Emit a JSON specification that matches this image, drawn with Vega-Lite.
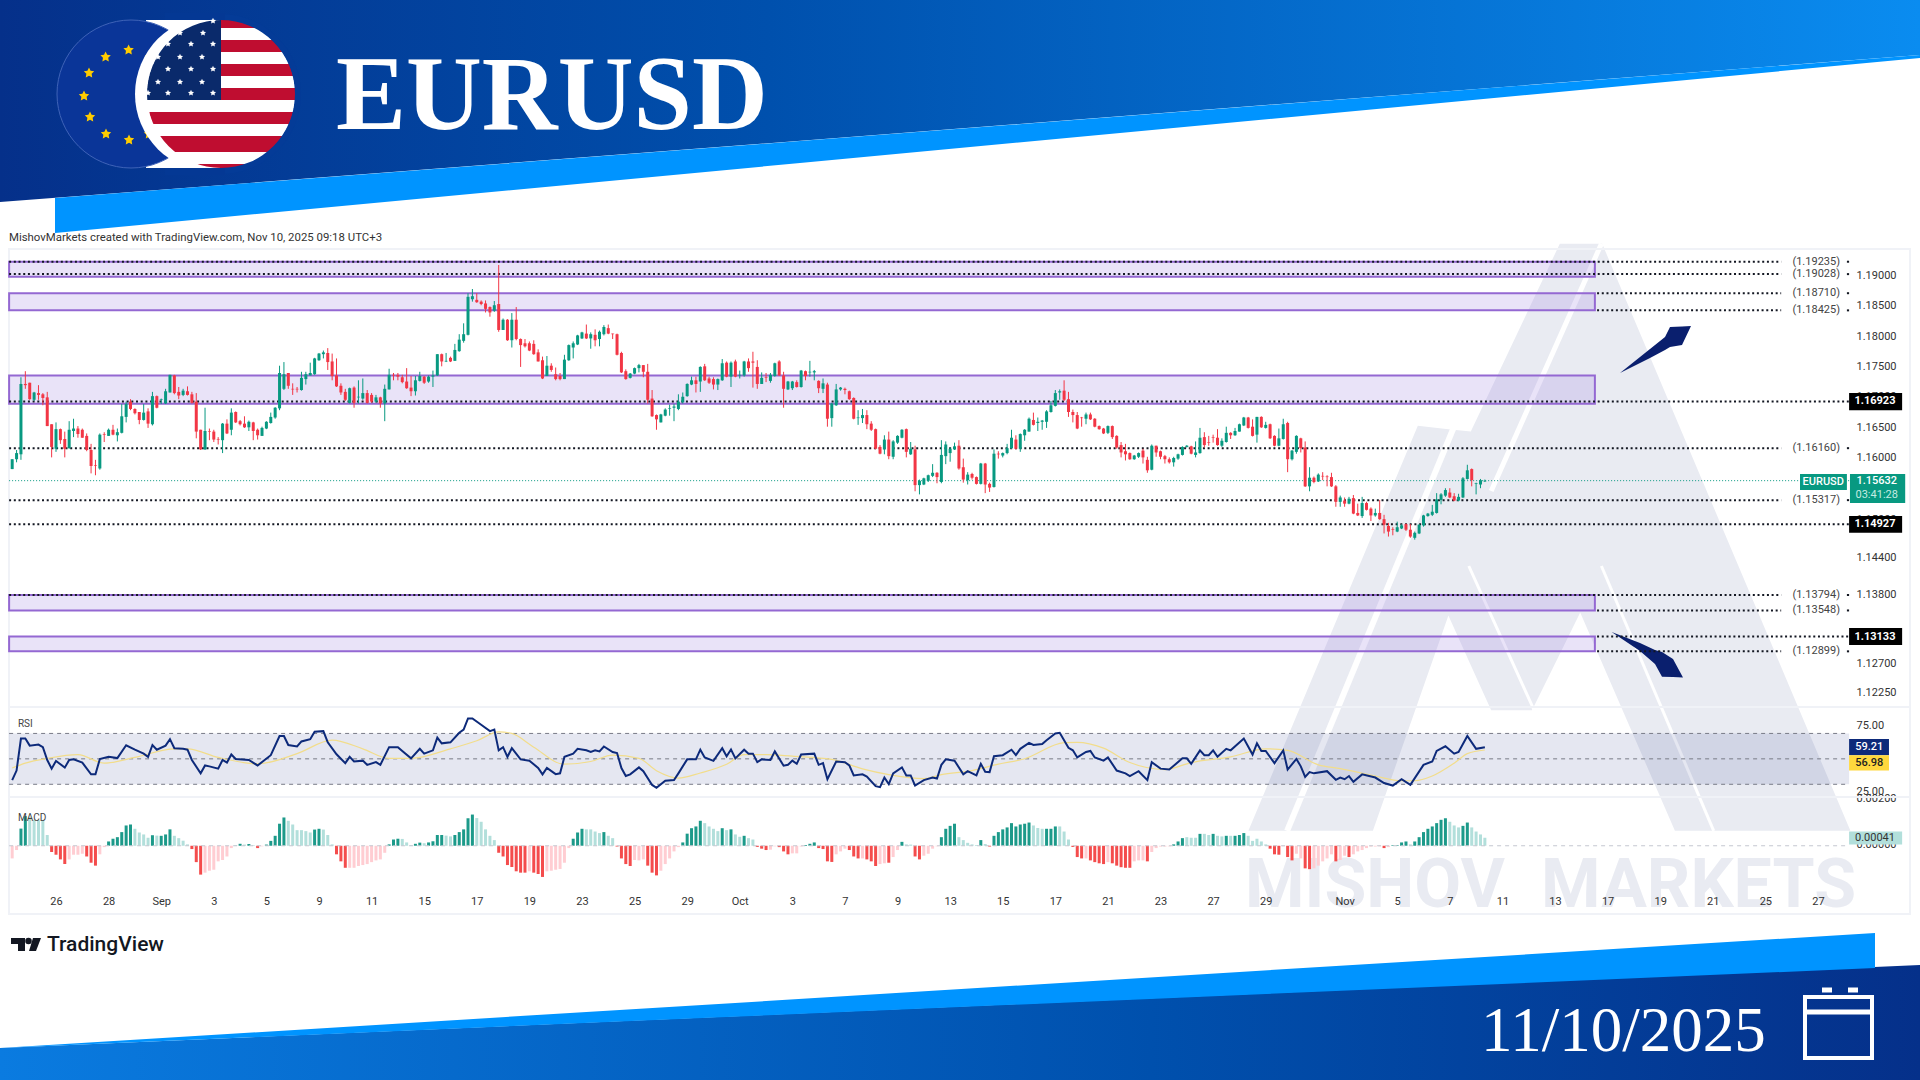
{"$schema":"https://vega.github.io/schema/vega-lite/v6.json","width":1920,"height":1080,"autosize":{"type":"none"},"padding":0,"background":"white","config":{"view":{"stroke":null},"font":"Roboto"},
"datasets":{
"candles":[{"i":0,"o":1.1582,"h":1.1598,"l":1.1582,"c":1.1598},{"i":1,"o":1.1598,"h":1.1613,"l":1.1593,"c":1.1608},{"i":2,"o":1.1606,"h":1.1732,"l":1.1597,"c":1.1721},{"i":3,"o":1.1721,"h":1.1742,"l":1.1713,"c":1.1719},{"i":4,"o":1.1723,"h":1.1723,"l":1.1695,"c":1.1696},{"i":5,"o":1.1695,"h":1.1708,"l":1.1693,"c":1.1707},{"i":6,"o":1.1706,"h":1.1719,"l":1.1695,"c":1.1703},{"i":7,"o":1.1704,"h":1.1706,"l":1.1686,"c":1.1698},{"i":8,"o":1.1699,"h":1.1708,"l":1.1652,"c":1.1652},{"i":9,"o":1.1655,"h":1.1655,"l":1.1601,"c":1.1618},{"i":10,"o":1.1615,"h":1.1658,"l":1.161,"c":1.1647},{"i":11,"o":1.1647,"h":1.1648,"l":1.1623,"c":1.1629},{"i":12,"o":1.1631,"h":1.1643,"l":1.1601,"c":1.1615},{"i":13,"o":1.1616,"h":1.166,"l":1.1615,"c":1.1646},{"i":14,"o":1.1644,"h":1.1664,"l":1.1634,"c":1.1648},{"i":15,"o":1.1648,"h":1.1652,"l":1.1633,"c":1.1639},{"i":16,"o":1.1646,"h":1.1648,"l":1.1633,"c":1.1633},{"i":17,"o":1.1636,"h":1.164,"l":1.1611,"c":1.1613},{"i":18,"o":1.1613,"h":1.1623,"l":1.1575,"c":1.1587},{"i":19,"o":1.1588,"h":1.1597,"l":1.1572,"c":1.1587},{"i":20,"o":1.1583,"h":1.164,"l":1.1581,"c":1.1638},{"i":21,"o":1.1639,"h":1.1642,"l":1.1626,"c":1.1638},{"i":22,"o":1.1636,"h":1.1648,"l":1.1636,"c":1.1646},{"i":23,"o":1.1646,"h":1.1654,"l":1.1637,"c":1.1638},{"i":24,"o":1.1637,"h":1.1648,"l":1.1627,"c":1.1642},{"i":25,"o":1.1641,"h":1.1688,"l":1.164,"c":1.1668},{"i":26,"o":1.1667,"h":1.1692,"l":1.1658,"c":1.1688},{"i":27,"o":1.1692,"h":1.1696,"l":1.1678,"c":1.168},{"i":28,"o":1.168,"h":1.1681,"l":1.1671,"c":1.1673},{"i":29,"o":1.1675,"h":1.1675,"l":1.1655,"c":1.1662},{"i":30,"o":1.1662,"h":1.1688,"l":1.1661,"c":1.1674},{"i":31,"o":1.1676,"h":1.1681,"l":1.1649,"c":1.1656},{"i":32,"o":1.1655,"h":1.1708,"l":1.1653,"c":1.1701},{"i":33,"o":1.1701,"h":1.1702,"l":1.1681,"c":1.1682},{"i":34,"o":1.1695,"h":1.1697,"l":1.1688,"c":1.1696},{"i":35,"o":1.1689,"h":1.1713,"l":1.1688,"c":1.1709},{"i":36,"o":1.1707,"h":1.1736,"l":1.1707,"c":1.1736},{"i":37,"o":1.1735,"h":1.1736,"l":1.1704,"c":1.1706},{"i":38,"o":1.1708,"h":1.1716,"l":1.1696,"c":1.1702},{"i":39,"o":1.1703,"h":1.1713,"l":1.1701,"c":1.171},{"i":40,"o":1.1709,"h":1.1717,"l":1.1702,"c":1.1703},{"i":41,"o":1.1704,"h":1.1708,"l":1.1689,"c":1.169},{"i":42,"o":1.1692,"h":1.1706,"l":1.1632,"c":1.1643},{"i":43,"o":1.1646,"h":1.1646,"l":1.1613,"c":1.1614},{"i":44,"o":1.1614,"h":1.1682,"l":1.1613,"c":1.1644},{"i":45,"o":1.1644,"h":1.1648,"l":1.1629,"c":1.1643},{"i":46,"o":1.1643,"h":1.1646,"l":1.1626,"c":1.163},{"i":47,"o":1.1631,"h":1.1634,"l":1.1622,"c":1.163},{"i":48,"o":1.1629,"h":1.1657,"l":1.1608,"c":1.1656},{"i":49,"o":1.1656,"h":1.1663,"l":1.1639,"c":1.164},{"i":50,"o":1.1646,"h":1.1681,"l":1.1637,"c":1.1674},{"i":51,"o":1.1675,"h":1.1676,"l":1.1657,"c":1.1658},{"i":52,"o":1.166,"h":1.1662,"l":1.1653,"c":1.1655},{"i":53,"o":1.1656,"h":1.1668,"l":1.1649,"c":1.165},{"i":54,"o":1.165,"h":1.1661,"l":1.1644,"c":1.1659},{"i":55,"o":1.1658,"h":1.1659,"l":1.1629,"c":1.1644},{"i":56,"o":1.1646,"h":1.1648,"l":1.163,"c":1.1637},{"i":57,"o":1.1636,"h":1.1651,"l":1.1636,"c":1.1649},{"i":58,"o":1.1648,"h":1.166,"l":1.1647,"c":1.1659},{"i":59,"o":1.1657,"h":1.1674,"l":1.1656,"c":1.1667},{"i":60,"o":1.1666,"h":1.1683,"l":1.1664,"c":1.1682},{"i":61,"o":1.1681,"h":1.1751,"l":1.1678,"c":1.1739},{"i":62,"o":1.1713,"h":1.1757,"l":1.1711,"c":1.1737},{"i":63,"o":1.1739,"h":1.1739,"l":1.1713,"c":1.1718},{"i":64,"o":1.1713,"h":1.1722,"l":1.1703,"c":1.1712},{"i":65,"o":1.1713,"h":1.1716,"l":1.1707,"c":1.1712},{"i":66,"o":1.1711,"h":1.1741,"l":1.171,"c":1.1731},{"i":67,"o":1.1729,"h":1.1741,"l":1.172,"c":1.1737},{"i":68,"o":1.1735,"h":1.1756,"l":1.1735,"c":1.1739},{"i":69,"o":1.1737,"h":1.1764,"l":1.1736,"c":1.1763},{"i":70,"o":1.176,"h":1.1772,"l":1.1759,"c":1.1771},{"i":71,"o":1.177,"h":1.1776,"l":1.1763,"c":1.1773},{"i":72,"o":1.1772,"h":1.178,"l":1.1744,"c":1.1757},{"i":73,"o":1.1758,"h":1.1771,"l":1.1727,"c":1.1734},{"i":74,"o":1.1735,"h":1.1763,"l":1.1716,"c":1.1717},{"i":75,"o":1.1718,"h":1.1722,"l":1.1703,"c":1.1707},{"i":76,"o":1.1708,"h":1.1713,"l":1.1693,"c":1.1695},{"i":77,"o":1.169,"h":1.1715,"l":1.1689,"c":1.1714},{"i":78,"o":1.1715,"h":1.1717,"l":1.1682,"c":1.169},{"i":79,"o":1.1699,"h":1.1727,"l":1.1689,"c":1.17},{"i":80,"o":1.1697,"h":1.173,"l":1.1695,"c":1.1706},{"i":81,"o":1.1706,"h":1.1711,"l":1.1689,"c":1.169},{"i":82,"o":1.1703,"h":1.1706,"l":1.169,"c":1.1692},{"i":83,"o":1.1692,"h":1.1703,"l":1.169,"c":1.1699},{"i":84,"o":1.1699,"h":1.17,"l":1.1682,"c":1.1689},{"i":85,"o":1.1689,"h":1.172,"l":1.166,"c":1.1713},{"i":86,"o":1.1712,"h":1.1746,"l":1.1712,"c":1.1736},{"i":87,"o":1.1736,"h":1.1739,"l":1.1727,"c":1.1735},{"i":88,"o":1.1736,"h":1.1739,"l":1.1727,"c":1.1733},{"i":89,"o":1.1732,"h":1.1736,"l":1.1722,"c":1.1724},{"i":90,"o":1.1725,"h":1.1747,"l":1.1713,"c":1.1714},{"i":91,"o":1.1715,"h":1.1734,"l":1.1701,"c":1.1709},{"i":92,"o":1.1709,"h":1.1734,"l":1.1702,"c":1.1727},{"i":93,"o":1.1726,"h":1.1741,"l":1.1725,"c":1.1734},{"i":94,"o":1.1733,"h":1.1734,"l":1.1721,"c":1.1723},{"i":95,"o":1.1725,"h":1.1735,"l":1.1723,"c":1.1733},{"i":96,"o":1.1733,"h":1.1743,"l":1.1716,"c":1.1735},{"i":97,"o":1.1735,"h":1.177,"l":1.1734,"c":1.177},{"i":98,"o":1.177,"h":1.1771,"l":1.175,"c":1.1758},{"i":99,"o":1.1758,"h":1.1772,"l":1.1757,"c":1.1759},{"i":100,"o":1.1764,"h":1.1766,"l":1.1757,"c":1.1758},{"i":101,"o":1.1759,"h":1.1787,"l":1.1759,"c":1.1777},{"i":102,"o":1.1775,"h":1.1803,"l":1.1774,"c":1.1794},{"i":103,"o":1.1792,"h":1.1821,"l":1.1789,"c":1.1803},{"i":104,"o":1.1802,"h":1.1871,"l":1.1801,"c":1.1865},{"i":105,"o":1.1861,"h":1.1878,"l":1.1857,"c":1.1866},{"i":106,"o":1.186,"h":1.1871,"l":1.1855,"c":1.1856},{"i":107,"o":1.1857,"h":1.1859,"l":1.1851,"c":1.1853},{"i":108,"o":1.1854,"h":1.1859,"l":1.1839,"c":1.1845},{"i":109,"o":1.1848,"h":1.1849,"l":1.1832,"c":1.1839},{"i":110,"o":1.1842,"h":1.1858,"l":1.184,"c":1.1851},{"i":111,"o":1.1853,"h":1.1918,"l":1.1807,"c":1.181},{"i":112,"o":1.181,"h":1.1829,"l":1.181,"c":1.1827},{"i":113,"o":1.1827,"h":1.1828,"l":1.1792,"c":1.1793},{"i":114,"o":1.1793,"h":1.1838,"l":1.1781,"c":1.1827},{"i":115,"o":1.1827,"h":1.1848,"l":1.1793,"c":1.1795},{"i":116,"o":1.1795,"h":1.1796,"l":1.1749,"c":1.1785},{"i":117,"o":1.1788,"h":1.1795,"l":1.1781,"c":1.1783},{"i":118,"o":1.1788,"h":1.1791,"l":1.1775,"c":1.1776},{"i":119,"o":1.1787,"h":1.1793,"l":1.1769,"c":1.177},{"i":120,"o":1.1773,"h":1.1778,"l":1.1758,"c":1.1758},{"i":121,"o":1.176,"h":1.1766,"l":1.1729,"c":1.173},{"i":122,"o":1.1734,"h":1.1767,"l":1.1734,"c":1.1751},{"i":123,"o":1.1751,"h":1.1755,"l":1.1741,"c":1.1744},{"i":124,"o":1.1737,"h":1.1748,"l":1.1727,"c":1.1729},{"i":125,"o":1.1734,"h":1.1739,"l":1.1727,"c":1.1729},{"i":126,"o":1.1729,"h":1.1769,"l":1.1729,"c":1.1761},{"i":127,"o":1.176,"h":1.1786,"l":1.1759,"c":1.1785},{"i":128,"o":1.1781,"h":1.1791,"l":1.1763,"c":1.1788},{"i":129,"o":1.1786,"h":1.1802,"l":1.1785,"c":1.1801},{"i":130,"o":1.1796,"h":1.1807,"l":1.1795,"c":1.1806},{"i":131,"o":1.1804,"h":1.1819,"l":1.1795,"c":1.1796},{"i":132,"o":1.1796,"h":1.1806,"l":1.1779,"c":1.1803},{"i":133,"o":1.1802,"h":1.1811,"l":1.1783,"c":1.1793},{"i":134,"o":1.1795,"h":1.1809,"l":1.1783,"c":1.1807},{"i":135,"o":1.1803,"h":1.1818,"l":1.1801,"c":1.1815},{"i":136,"o":1.1813,"h":1.1819,"l":1.1803,"c":1.1804},{"i":137,"o":1.1804,"h":1.1804,"l":1.1795,"c":1.1803},{"i":138,"o":1.1803,"h":1.1804,"l":1.1768,"c":1.1769},{"i":139,"o":1.1772,"h":1.1774,"l":1.1739,"c":1.174},{"i":140,"o":1.1742,"h":1.1745,"l":1.1728,"c":1.1729},{"i":141,"o":1.1731,"h":1.1739,"l":1.173,"c":1.1738},{"i":142,"o":1.1738,"h":1.1748,"l":1.1737,"c":1.1747},{"i":143,"o":1.1747,"h":1.1754,"l":1.174,"c":1.1752},{"i":144,"o":1.1752,"h":1.1752,"l":1.1732,"c":1.1741},{"i":145,"o":1.1741,"h":1.1754,"l":1.1689,"c":1.1695},{"i":146,"o":1.1697,"h":1.1711,"l":1.1667,"c":1.1668},{"i":147,"o":1.167,"h":1.1671,"l":1.1646,"c":1.1663},{"i":148,"o":1.1658,"h":1.1672,"l":1.1658,"c":1.1671},{"i":149,"o":1.1669,"h":1.1681,"l":1.1668,"c":1.1679},{"i":150,"o":1.168,"h":1.1687,"l":1.1669,"c":1.1681},{"i":151,"o":1.1682,"h":1.1688,"l":1.166,"c":1.1684},{"i":152,"o":1.168,"h":1.1704,"l":1.1678,"c":1.1692},{"i":153,"o":1.1691,"h":1.1707,"l":1.1689,"c":1.17},{"i":154,"o":1.1701,"h":1.1722,"l":1.17,"c":1.1721},{"i":155,"o":1.172,"h":1.1733,"l":1.1719,"c":1.1727},{"i":156,"o":1.1727,"h":1.1733,"l":1.1707,"c":1.1721},{"i":157,"o":1.1725,"h":1.175,"l":1.1708,"c":1.1749},{"i":158,"o":1.175,"h":1.1754,"l":1.1726,"c":1.1727},{"i":159,"o":1.173,"h":1.1733,"l":1.1721,"c":1.1723},{"i":160,"o":1.1729,"h":1.1732,"l":1.1712,"c":1.172},{"i":161,"o":1.172,"h":1.173,"l":1.1711,"c":1.1729},{"i":162,"o":1.1727,"h":1.1762,"l":1.1726,"c":1.1755},{"i":163,"o":1.1756,"h":1.1758,"l":1.1732,"c":1.1733},{"i":164,"o":1.1733,"h":1.1758,"l":1.1716,"c":1.1756},{"i":165,"o":1.1758,"h":1.1761,"l":1.1732,"c":1.1733},{"i":166,"o":1.1735,"h":1.1743,"l":1.173,"c":1.1736},{"i":167,"o":1.1735,"h":1.1759,"l":1.1733,"c":1.1758},{"i":168,"o":1.1758,"h":1.1763,"l":1.1741,"c":1.1747},{"i":169,"o":1.1758,"h":1.1774,"l":1.1715,"c":1.1756},{"i":170,"o":1.1749,"h":1.176,"l":1.1713,"c":1.1721},{"i":171,"o":1.1721,"h":1.174,"l":1.1721,"c":1.1731},{"i":172,"o":1.1732,"h":1.1739,"l":1.1724,"c":1.1731},{"i":173,"o":1.1726,"h":1.1739,"l":1.1723,"c":1.1736},{"i":174,"o":1.1734,"h":1.1756,"l":1.1733,"c":1.1755},{"i":175,"o":1.1758,"h":1.176,"l":1.1734,"c":1.1735},{"i":176,"o":1.1735,"h":1.1741,"l":1.1682,"c":1.1713},{"i":177,"o":1.1712,"h":1.1726,"l":1.1711,"c":1.1725},{"i":178,"o":1.1714,"h":1.1726,"l":1.1711,"c":1.1725},{"i":179,"o":1.1724,"h":1.1727,"l":1.1715,"c":1.1716},{"i":180,"o":1.1716,"h":1.1744,"l":1.1715,"c":1.1743},{"i":181,"o":1.1742,"h":1.1743,"l":1.1727,"c":1.1734},{"i":182,"o":1.174,"h":1.1759,"l":1.1733,"c":1.1741},{"i":183,"o":1.174,"h":1.1744,"l":1.1727,"c":1.1742},{"i":184,"o":1.1726,"h":1.1727,"l":1.1706,"c":1.1714},{"i":185,"o":1.1713,"h":1.173,"l":1.1706,"c":1.1722},{"i":186,"o":1.172,"h":1.1723,"l":1.1651,"c":1.1664},{"i":187,"o":1.1665,"h":1.169,"l":1.1651,"c":1.1689},{"i":188,"o":1.1686,"h":1.1721,"l":1.1685,"c":1.1712},{"i":189,"o":1.1712,"h":1.1716,"l":1.171,"c":1.1715},{"i":190,"o":1.1713,"h":1.1715,"l":1.1704,"c":1.1711},{"i":191,"o":1.1709,"h":1.171,"l":1.1695,"c":1.1696},{"i":192,"o":1.1698,"h":1.1699,"l":1.1663,"c":1.1664},{"i":193,"o":1.1665,"h":1.1678,"l":1.1654,"c":1.1666},{"i":194,"o":1.1665,"h":1.168,"l":1.1657,"c":1.167},{"i":195,"o":1.167,"h":1.1678,"l":1.1647,"c":1.1655},{"i":196,"o":1.1656,"h":1.166,"l":1.1644,"c":1.1646},{"i":197,"o":1.1647,"h":1.1648,"l":1.1614,"c":1.1615},{"i":198,"o":1.1618,"h":1.1621,"l":1.1606,"c":1.1607},{"i":199,"o":1.1614,"h":1.1637,"l":1.1606,"c":1.163},{"i":200,"o":1.163,"h":1.1643,"l":1.1598,"c":1.1603},{"i":201,"o":1.1602,"h":1.1629,"l":1.1598,"c":1.1627},{"i":202,"o":1.1625,"h":1.1637,"l":1.1623,"c":1.1636},{"i":203,"o":1.1633,"h":1.1647,"l":1.1632,"c":1.1646},{"i":204,"o":1.1647,"h":1.1648,"l":1.1601,"c":1.161},{"i":205,"o":1.1606,"h":1.1626,"l":1.1605,"c":1.1615},{"i":206,"o":1.1614,"h":1.162,"l":1.1546,"c":1.1556},{"i":207,"o":1.1556,"h":1.1565,"l":1.1541,"c":1.1563},{"i":208,"o":1.1557,"h":1.1568,"l":1.1556,"c":1.1567},{"i":209,"o":1.1563,"h":1.1573,"l":1.1561,"c":1.1572},{"i":210,"o":1.1571,"h":1.159,"l":1.1569,"c":1.1576},{"i":211,"o":1.1576,"h":1.1577,"l":1.1559,"c":1.1569},{"i":212,"o":1.1561,"h":1.1629,"l":1.1559,"c":1.1605},{"i":213,"o":1.1603,"h":1.1627,"l":1.159,"c":1.1622},{"i":214,"o":1.1608,"h":1.1617,"l":1.1594,"c":1.1615},{"i":215,"o":1.1614,"h":1.1625,"l":1.1613,"c":1.1619},{"i":216,"o":1.162,"h":1.1629,"l":1.1581,"c":1.1583},{"i":217,"o":1.1585,"h":1.1599,"l":1.156,"c":1.1565},{"i":218,"o":1.1564,"h":1.1577,"l":1.1557,"c":1.1573},{"i":219,"o":1.1574,"h":1.1576,"l":1.1565,"c":1.1568},{"i":220,"o":1.1569,"h":1.157,"l":1.1557,"c":1.1558},{"i":221,"o":1.1558,"h":1.1592,"l":1.1557,"c":1.1591},{"i":222,"o":1.1591,"h":1.1592,"l":1.1543,"c":1.1557},{"i":223,"o":1.1558,"h":1.156,"l":1.1545,"c":1.1552},{"i":224,"o":1.1553,"h":1.1614,"l":1.1552,"c":1.1607},{"i":225,"o":1.1607,"h":1.1611,"l":1.1599,"c":1.1606},{"i":226,"o":1.1604,"h":1.1609,"l":1.1601,"c":1.1608},{"i":227,"o":1.1608,"h":1.1623,"l":1.1606,"c":1.1616},{"i":228,"o":1.1616,"h":1.1646,"l":1.1615,"c":1.1633},{"i":229,"o":1.163,"h":1.1637,"l":1.1614,"c":1.1615},{"i":230,"o":1.1615,"h":1.164,"l":1.161,"c":1.1639},{"i":231,"o":1.1637,"h":1.1647,"l":1.1628,"c":1.1646},{"i":232,"o":1.1643,"h":1.1666,"l":1.1643,"c":1.1664},{"i":233,"o":1.1662,"h":1.1674,"l":1.1653,"c":1.1654},{"i":234,"o":1.1657,"h":1.1666,"l":1.1644,"c":1.1659},{"i":235,"o":1.1659,"h":1.1662,"l":1.1646,"c":1.1661},{"i":236,"o":1.1659,"h":1.1678,"l":1.1649,"c":1.1676},{"i":237,"o":1.1675,"h":1.1693,"l":1.1674,"c":1.1686},{"i":238,"o":1.1685,"h":1.1711,"l":1.1684,"c":1.1706},{"i":239,"o":1.1707,"h":1.1712,"l":1.1695,"c":1.1709},{"i":240,"o":1.171,"h":1.1727,"l":1.1693,"c":1.1695},{"i":241,"o":1.1696,"h":1.1708,"l":1.1667,"c":1.1675},{"i":242,"o":1.1675,"h":1.1679,"l":1.1658,"c":1.167},{"i":243,"o":1.167,"h":1.1675,"l":1.1647,"c":1.1648},{"i":244,"o":1.1666,"h":1.1667,"l":1.1651,"c":1.1665},{"i":245,"o":1.1664,"h":1.1674,"l":1.1655,"c":1.1671},{"i":246,"o":1.1671,"h":1.1674,"l":1.1662,"c":1.1663},{"i":247,"o":1.1664,"h":1.1665,"l":1.165,"c":1.1651},{"i":248,"o":1.1652,"h":1.1653,"l":1.1646,"c":1.1647},{"i":249,"o":1.1648,"h":1.1649,"l":1.1639,"c":1.164},{"i":250,"o":1.1641,"h":1.1653,"l":1.1639,"c":1.1652},{"i":251,"o":1.1652,"h":1.1653,"l":1.1631,"c":1.1634},{"i":252,"o":1.1636,"h":1.1637,"l":1.1615,"c":1.1617},{"i":253,"o":1.1621,"h":1.1626,"l":1.1601,"c":1.1609},{"i":254,"o":1.1611,"h":1.1623,"l":1.1596,"c":1.1606},{"i":255,"o":1.1608,"h":1.1609,"l":1.1597,"c":1.1598},{"i":256,"o":1.1598,"h":1.1605,"l":1.1597,"c":1.1604},{"i":257,"o":1.1602,"h":1.1609,"l":1.16,"c":1.1608},{"i":258,"o":1.1612,"h":1.1615,"l":1.1591,"c":1.1601},{"i":259,"o":1.1597,"h":1.1602,"l":1.1576,"c":1.158},{"i":260,"o":1.1581,"h":1.1622,"l":1.158,"c":1.162},{"i":261,"o":1.162,"h":1.162,"l":1.1602,"c":1.1609},{"i":262,"o":1.1611,"h":1.1612,"l":1.1598,"c":1.1602},{"i":263,"o":1.1603,"h":1.1605,"l":1.1591,"c":1.1598},{"i":264,"o":1.1598,"h":1.1601,"l":1.1591,"c":1.1593},{"i":265,"o":1.1593,"h":1.1602,"l":1.1586,"c":1.16},{"i":266,"o":1.1599,"h":1.1607,"l":1.1597,"c":1.1606},{"i":267,"o":1.1605,"h":1.1619,"l":1.1604,"c":1.1618},{"i":268,"o":1.1618,"h":1.1621,"l":1.1617,"c":1.162},{"i":269,"o":1.1619,"h":1.162,"l":1.1606,"c":1.1607},{"i":270,"o":1.1605,"h":1.1627,"l":1.1601,"c":1.1609},{"i":271,"o":1.1608,"h":1.1649,"l":1.1607,"c":1.1633},{"i":272,"o":1.1634,"h":1.1642,"l":1.1617,"c":1.1621},{"i":273,"o":1.1626,"h":1.1636,"l":1.162,"c":1.1625},{"i":274,"o":1.1634,"h":1.1638,"l":1.1625,"c":1.1633},{"i":275,"o":1.1633,"h":1.1647,"l":1.162,"c":1.1621},{"i":276,"o":1.162,"h":1.1632,"l":1.1618,"c":1.1628},{"i":277,"o":1.1626,"h":1.1651,"l":1.1625,"c":1.1641},{"i":278,"o":1.1641,"h":1.1642,"l":1.1631,"c":1.1637},{"i":279,"o":1.1637,"h":1.1649,"l":1.1636,"c":1.1644},{"i":280,"o":1.1643,"h":1.1656,"l":1.1643,"c":1.1655},{"i":281,"o":1.1653,"h":1.1667,"l":1.1652,"c":1.1666},{"i":282,"o":1.1666,"h":1.1667,"l":1.1648,"c":1.1649},{"i":283,"o":1.1651,"h":1.1663,"l":1.1635,"c":1.1636},{"i":284,"o":1.1638,"h":1.1667,"l":1.1625,"c":1.1667},{"i":285,"o":1.1667,"h":1.1668,"l":1.1649,"c":1.165},{"i":286,"o":1.1649,"h":1.1659,"l":1.1648,"c":1.1654},{"i":287,"o":1.1655,"h":1.1656,"l":1.1631,"c":1.1632},{"i":288,"o":1.1636,"h":1.1637,"l":1.1619,"c":1.162},{"i":289,"o":1.162,"h":1.1648,"l":1.1619,"c":1.1632},{"i":290,"o":1.1631,"h":1.1664,"l":1.163,"c":1.1655},{"i":291,"o":1.1657,"h":1.1659,"l":1.1577,"c":1.1598},{"i":292,"o":1.1598,"h":1.1613,"l":1.1596,"c":1.1612},{"i":293,"o":1.161,"h":1.1637,"l":1.1607,"c":1.1636},{"i":294,"o":1.1632,"h":1.1633,"l":1.1609,"c":1.1616},{"i":295,"o":1.1617,"h":1.1627,"l":1.1553,"c":1.1554},{"i":296,"o":1.1554,"h":1.1585,"l":1.1546,"c":1.1568},{"i":297,"o":1.1568,"h":1.157,"l":1.1559,"c":1.1561},{"i":298,"o":1.1562,"h":1.1575,"l":1.1561,"c":1.1573},{"i":299,"o":1.1571,"h":1.1577,"l":1.1564,"c":1.157},{"i":300,"o":1.157,"h":1.1572,"l":1.1554,"c":1.1569},{"i":301,"o":1.1569,"h":1.1576,"l":1.1553,"c":1.1554},{"i":302,"o":1.1554,"h":1.1556,"l":1.1521,"c":1.1529},{"i":303,"o":1.1529,"h":1.1539,"l":1.1521,"c":1.1536},{"i":304,"o":1.1531,"h":1.1536,"l":1.1521,"c":1.1526},{"i":305,"o":1.1526,"h":1.1537,"l":1.1525,"c":1.1534},{"i":306,"o":1.1535,"h":1.154,"l":1.1509,"c":1.151},{"i":307,"o":1.1511,"h":1.1526,"l":1.1506,"c":1.1507},{"i":308,"o":1.1506,"h":1.1537,"l":1.1503,"c":1.1527},{"i":309,"o":1.1527,"h":1.1529,"l":1.1515,"c":1.1516},{"i":310,"o":1.1518,"h":1.152,"l":1.1498,"c":1.1507},{"i":311,"o":1.1507,"h":1.1518,"l":1.1505,"c":1.1511},{"i":312,"o":1.1511,"h":1.1532,"l":1.15,"c":1.1501},{"i":313,"o":1.1501,"h":1.1508,"l":1.1478,"c":1.1492},{"i":314,"o":1.149,"h":1.1495,"l":1.1473,"c":1.1481},{"i":315,"o":1.1485,"h":1.1488,"l":1.1475,"c":1.1484},{"i":316,"o":1.1481,"h":1.1497,"l":1.148,"c":1.1488},{"i":317,"o":1.1486,"h":1.1493,"l":1.1485,"c":1.1491},{"i":318,"o":1.1493,"h":1.1494,"l":1.1482,"c":1.1484},{"i":319,"o":1.1484,"h":1.1493,"l":1.1471,"c":1.1473},{"i":320,"o":1.1471,"h":1.1481,"l":1.1468,"c":1.1479},{"i":321,"o":1.1478,"h":1.1493,"l":1.1477,"c":1.1492},{"i":322,"o":1.1491,"h":1.1508,"l":1.1489,"c":1.1507},{"i":323,"o":1.1506,"h":1.1511,"l":1.1505,"c":1.151},{"i":324,"o":1.1508,"h":1.1524,"l":1.1506,"c":1.1513},{"i":325,"o":1.1511,"h":1.1543,"l":1.151,"c":1.1533},{"i":326,"o":1.1532,"h":1.1543,"l":1.1525,"c":1.1541},{"i":327,"o":1.1539,"h":1.1551,"l":1.1537,"c":1.1548},{"i":328,"o":1.1544,"h":1.1551,"l":1.1535,"c":1.1536},{"i":329,"o":1.1538,"h":1.1543,"l":1.153,"c":1.1531},{"i":330,"o":1.1531,"h":1.1542,"l":1.153,"c":1.1537},{"i":331,"o":1.1536,"h":1.1569,"l":1.1535,"c":1.1567},{"i":332,"o":1.1566,"h":1.1589,"l":1.1565,"c":1.158},{"i":333,"o":1.1582,"h":1.1583,"l":1.1554,"c":1.1564},{"i":334,"o":1.1558,"h":1.156,"l":1.1541,"c":1.1559},{"i":335,"o":1.1557,"h":1.1566,"l":1.1551,"c":1.1564},{"i":336,"o":1.1562,"h":1.1565,"l":1.1561,"c":1.1563}],
"rsi":[{"i":0,"v":33.3},{"i":1,"v":40.8},{"i":2,"v":66},{"i":3,"v":66},{"i":4,"v":60.4},{"i":6,"v":61.2},{"i":7,"v":59.2},{"i":8,"v":49.1},{"i":9,"v":42.3},{"i":10,"v":48.4},{"i":12,"v":43.1},{"i":13,"v":49.1},{"i":14,"v":49.6},{"i":16,"v":47.1},{"i":18,"v":37.8},{"i":19,"v":37.8},{"i":20,"v":49.9},{"i":22,"v":51.6},{"i":24,"v":50.6},{"i":26,"v":60.7},{"i":28,"v":57.2},{"i":30,"v":54.1},{"i":31,"v":51.6},{"i":32,"v":60.9},{"i":33,"v":57.2},{"i":35,"v":60.4},{"i":36,"v":65.5},{"i":37,"v":58.4},{"i":39,"v":57.9},{"i":40,"v":57.2},{"i":41,"v":49.1},{"i":43,"v":38.6},{"i":44,"v":44.8},{"i":45,"v":44.1},{"i":47,"v":42.3},{"i":48,"v":49.1},{"i":49,"v":47.1},{"i":50,"v":53.4},{"i":51,"v":49.9},{"i":54,"v":49.1},{"i":56,"v":44.8},{"i":59,"v":52.9},{"i":61,"v":68},{"i":62,"v":68},{"i":63,"v":60.9},{"i":65,"v":59.7},{"i":66,"v":63.7},{"i":68,"v":65.5},{"i":69,"v":71.3},{"i":71,"v":71.8},{"i":72,"v":63},{"i":74,"v":53.6},{"i":76,"v":46.6},{"i":77,"v":51.6},{"i":78,"v":47.9},{"i":80,"v":48.6},{"i":81,"v":45.3},{"i":83,"v":47.4},{"i":84,"v":45.3},{"i":86,"v":59.2},{"i":88,"v":59.2},{"i":89,"v":56.2},{"i":91,"v":50.4},{"i":93,"v":57.9},{"i":94,"v":54.1},{"i":96,"v":56.7},{"i":97,"v":66.7},{"i":98,"v":62.2},{"i":100,"v":63},{"i":102,"v":70.5},{"i":103,"v":73},{"i":104,"v":81.8},{"i":105,"v":81.8},{"i":107,"v":76.8},{"i":109,"v":71.8},{"i":110,"v":73},{"i":111,"v":56.7},{"i":112,"v":59.2},{"i":113,"v":51.6},{"i":114,"v":58.4},{"i":116,"v":49.6},{"i":118,"v":48.6},{"i":120,"v":42.8},{"i":121,"v":37.8},{"i":122,"v":42.8},{"i":124,"v":38},{"i":125,"v":38.6},{"i":126,"v":51.6},{"i":128,"v":54.1},{"i":129,"v":57.9},{"i":131,"v":56.7},{"i":132,"v":55.4},{"i":133,"v":56.7},{"i":134,"v":55.9},{"i":135,"v":59.7},{"i":137,"v":55.4},{"i":138,"v":54.6},{"i":139,"v":42.8},{"i":140,"v":36.5},{"i":141,"v":37.8},{"i":143,"v":43.3},{"i":144,"v":40.3},{"i":146,"v":29.5},{"i":147,"v":27.2},{"i":149,"v":32.8},{"i":151,"v":33.3},{"i":152,"v":38.6},{"i":154,"v":49.6},{"i":156,"v":49.6},{"i":157,"v":57.2},{"i":158,"v":51.1},{"i":160,"v":48.4},{"i":162,"v":58.4},{"i":163,"v":52.1},{"i":164,"v":57.4},{"i":165,"v":50.4},{"i":167,"v":57.2},{"i":168,"v":54.1},{"i":169,"v":54.1},{"i":170,"v":47.4},{"i":171,"v":49.6},{"i":173,"v":49.1},{"i":174,"v":55.9},{"i":176,"v":44.6},{"i":177,"v":45.3},{"i":178,"v":48.6},{"i":179,"v":46.1},{"i":180,"v":53.4},{"i":183,"v":54.1},{"i":184,"v":45.3},{"i":185,"v":46.6},{"i":186,"v":34},{"i":188,"v":47.9},{"i":190,"v":47.4},{"i":191,"v":44.8},{"i":192,"v":37},{"i":194,"v":37.8},{"i":195,"v":36},{"i":197,"v":28.5},{"i":198,"v":27.7},{"i":199,"v":35.3},{"i":200,"v":30.2},{"i":201,"v":38.6},{"i":203,"v":43.3},{"i":204,"v":37},{"i":205,"v":37},{"i":206,"v":29},{"i":208,"v":33.3},{"i":210,"v":35.3},{"i":211,"v":34.5},{"i":212,"v":45.3},{"i":213,"v":49.6},{"i":215,"v":48.6},{"i":217,"v":37.8},{"i":218,"v":40.3},{"i":220,"v":37},{"i":221,"v":46.1},{"i":222,"v":39.8},{"i":223,"v":39.6},{"i":224,"v":52.1},{"i":226,"v":52.9},{"i":228,"v":57.2},{"i":229,"v":52.9},{"i":230,"v":57.9},{"i":232,"v":62.5},{"i":233,"v":60.9},{"i":235,"v":61.7},{"i":236,"v":64.7},{"i":238,"v":70},{"i":239,"v":70.5},{"i":241,"v":58.7},{"i":242,"v":56.7},{"i":243,"v":51.1},{"i":245,"v":55.4},{"i":246,"v":56.2},{"i":247,"v":51.1},{"i":249,"v":48.6},{"i":250,"v":51.1},{"i":252,"v":40.8},{"i":254,"v":38.6},{"i":255,"v":36.5},{"i":257,"v":40.3},{"i":259,"v":33.3},{"i":260,"v":47.4},{"i":262,"v":42.3},{"i":264,"v":41.6},{"i":267,"v":50.4},{"i":268,"v":50.4},{"i":269,"v":46.1},{"i":271,"v":56.7},{"i":272,"v":52.9},{"i":273,"v":52.9},{"i":274,"v":56.7},{"i":275,"v":51.6},{"i":277,"v":57.9},{"i":278,"v":56.7},{"i":281,"v":66},{"i":283,"v":53.4},{"i":284,"v":62.2},{"i":285,"v":56.2},{"i":286,"v":56.2},{"i":288,"v":46.6},{"i":290,"v":56.7},{"i":291,"v":41.6},{"i":293,"v":49.9},{"i":294,"v":44.1},{"i":295,"v":35.8},{"i":296,"v":39.6},{"i":297,"v":38.6},{"i":300,"v":40.3},{"i":302,"v":33.5},{"i":303,"v":35.3},{"i":304,"v":34},{"i":305,"v":36.5},{"i":306,"v":32},{"i":308,"v":37.8},{"i":311,"v":35.3},{"i":313,"v":31},{"i":315,"v":29},{"i":317,"v":34},{"i":319,"v":29.5},{"i":322,"v":45.3},{"i":324,"v":47.9},{"i":325,"v":56.2},{"i":327,"v":59.9},{"i":329,"v":54.1},{"i":330,"v":55.4},{"i":332,"v":68},{"i":334,"v":57.9},{"i":336,"v":59.21}],
"rsima":[{"i":0,"v":42.8},{"i":3,"v":46.6},{"i":8,"v":50.4},{"i":15,"v":53.4},{"i":21,"v":46.6},{"i":28,"v":51.1},{"i":37,"v":57.9},{"i":40,"v":57.9},{"i":47,"v":51.1},{"i":56,"v":46.1},{"i":65,"v":54.1},{"i":73,"v":64.7},{"i":80,"v":57.9},{"i":86,"v":50.4},{"i":91,"v":50.4},{"i":100,"v":57.9},{"i":106,"v":64.2},{"i":111,"v":71.3},{"i":114,"v":70},{"i":119,"v":59.2},{"i":126,"v":45.8},{"i":132,"v":47.9},{"i":137,"v":52.9},{"i":143,"v":50.4},{"i":147,"v":40.7},{"i":152,"v":34.9},{"i":157,"v":38.9},{"i":163,"v":45.7},{"i":167,"v":53.4},{"i":172,"v":53.4},{"i":178,"v":52.1},{"i":187,"v":49.6},{"i":194,"v":42.1},{"i":200,"v":37.6},{"i":208,"v":34.5},{"i":212,"v":37.6},{"i":219,"v":40.8},{"i":225,"v":45.8},{"i":231,"v":50.1},{"i":240,"v":62.7},{"i":243,"v":63},{"i":249,"v":58.4},{"i":255,"v":47.1},{"i":263,"v":41.6},{"i":269,"v":47.1},{"i":278,"v":51.6},{"i":286,"v":57.9},{"i":291,"v":56.7},{"i":298,"v":45.3},{"i":303,"v":42.3},{"i":311,"v":36.5},{"i":317,"v":32.8},{"i":320,"v":32.8},{"i":324,"v":36.5},{"i":329,"v":46.6},{"i":332,"v":54.1},{"i":336,"v":56.98}],
"macd":[{"i":0,"v":-0.00065,"k":"lr"},{"i":1,"v":-0.00022,"k":"lr"},{"i":2,"v":0.00088,"k":"g"},{"i":3,"v":0.00152,"k":"g"},{"i":4,"v":0.00149,"k":"lg"},{"i":5,"v":0.00133,"k":"lg"},{"i":6,"v":0.00131,"k":"lg"},{"i":7,"v":0.00128,"k":"lg"},{"i":8,"v":0.00055,"k":"lg"},{"i":9,"v":-0.00032,"k":"r"},{"i":10,"v":-0.00046,"k":"r"},{"i":11,"v":-0.0007,"k":"r"},{"i":12,"v":-0.00094,"k":"r"},{"i":13,"v":-0.0007,"k":"lr"},{"i":14,"v":-0.00046,"k":"lr"},{"i":15,"v":-0.00046,"k":"lr"},{"i":16,"v":-0.00041,"k":"lr"},{"i":17,"v":-0.00055,"k":"r"},{"i":18,"v":-0.00087,"k":"r"},{"i":19,"v":-0.00102,"k":"r"},{"i":20,"v":-0.00044,"k":"lr"},{"i":21,"v":-0.00007,"k":"lr"},{"i":22,"v":0.00022,"k":"g"},{"i":23,"v":0.00036,"k":"g"},{"i":24,"v":0.00044,"k":"g"},{"i":25,"v":0.0007,"k":"g"},{"i":26,"v":0.00104,"k":"g"},{"i":27,"v":0.00109,"k":"g"},{"i":28,"v":0.00087,"k":"lg"},{"i":29,"v":0.00068,"k":"lg"},{"i":30,"v":0.00058,"k":"lg"},{"i":31,"v":0.00041,"k":"lg"},{"i":32,"v":0.00054,"k":"g"},{"i":33,"v":0.00052,"k":"lg"},{"i":34,"v":0.00051,"k":"g"},{"i":35,"v":0.00058,"k":"g"},{"i":36,"v":0.00084,"k":"g"},{"i":37,"v":0.00051,"k":"lg"},{"i":38,"v":0.00039,"k":"lg"},{"i":39,"v":0.00026,"k":"lg"},{"i":40,"v":0.00007,"k":"lg"},{"i":41,"v":-0.00017,"k":"r"},{"i":42,"v":-0.00084,"k":"r"},{"i":43,"v":-0.00148,"k":"r"},{"i":44,"v":-0.00138,"k":"lr"},{"i":45,"v":-0.00128,"k":"lr"},{"i":46,"v":-0.00123,"k":"lr"},{"i":47,"v":-0.0008,"k":"lr"},{"i":48,"v":-0.00073,"k":"lr"},{"i":49,"v":-0.00055,"k":"lr"},{"i":50,"v":-0.00012,"k":"lr"},{"i":51,"v":0.00003,"k":"lg"},{"i":52,"v":0.0001,"k":"g"},{"i":53,"v":0.00006,"k":"lg"},{"i":54,"v":0.00009,"k":"g"},{"i":55,"v":0.00003,"k":"lg"},{"i":56,"v":-0.00012,"k":"r"},{"i":57,"v":-0.00003,"k":"lr"},{"i":58,"v":0.00006,"k":"g"},{"i":59,"v":0.00025,"k":"g"},{"i":60,"v":0.00051,"k":"g"},{"i":61,"v":0.00113,"k":"g"},{"i":62,"v":0.00145,"k":"g"},{"i":63,"v":0.00128,"k":"lg"},{"i":64,"v":0.00109,"k":"lg"},{"i":65,"v":0.0008,"k":"lg"},{"i":66,"v":0.0008,"k":"lg"},{"i":67,"v":0.00075,"k":"lg"},{"i":68,"v":0.00068,"k":"lg"},{"i":69,"v":0.00083,"k":"g"},{"i":70,"v":0.00087,"k":"g"},{"i":71,"v":0.00083,"k":"lg"},{"i":72,"v":0.00055,"k":"lg"},{"i":73,"v":0.00007,"k":"lg"},{"i":74,"v":-0.00044,"k":"r"},{"i":75,"v":-0.0008,"k":"r"},{"i":76,"v":-0.00113,"k":"r"},{"i":77,"v":-0.00113,"k":"lr"},{"i":78,"v":-0.00113,"k":"lr"},{"i":79,"v":-0.00104,"k":"lr"},{"i":80,"v":-0.00099,"k":"lr"},{"i":81,"v":-0.00094,"k":"lr"},{"i":82,"v":-0.00084,"k":"lr"},{"i":83,"v":-0.00075,"k":"lr"},{"i":84,"v":-0.0007,"k":"lr"},{"i":85,"v":-0.00036,"k":"lr"},{"i":86,"v":0.00007,"k":"g"},{"i":87,"v":0.00032,"k":"g"},{"i":88,"v":0.00036,"k":"g"},{"i":89,"v":0.00035,"k":"lg"},{"i":90,"v":0.00017,"k":"lg"},{"i":91,"v":0.00003,"k":"lg"},{"i":92,"v":0.0001,"k":"g"},{"i":93,"v":0.00016,"k":"g"},{"i":94,"v":0.00013,"k":"lg"},{"i":95,"v":0.00017,"k":"g"},{"i":96,"v":0.00023,"k":"g"},{"i":97,"v":0.00055,"k":"g"},{"i":98,"v":0.00055,"k":"g"},{"i":99,"v":0.00052,"k":"lg"},{"i":100,"v":0.00048,"k":"lg"},{"i":101,"v":0.00055,"k":"g"},{"i":102,"v":0.0007,"k":"g"},{"i":103,"v":0.00084,"k":"g"},{"i":104,"v":0.00141,"k":"g"},{"i":105,"v":0.0016,"k":"g"},{"i":106,"v":0.00142,"k":"lg"},{"i":107,"v":0.00123,"k":"lg"},{"i":108,"v":0.00084,"k":"lg"},{"i":109,"v":0.00051,"k":"lg"},{"i":110,"v":0.00029,"k":"lg"},{"i":111,"v":-0.00036,"k":"r"},{"i":112,"v":-0.00055,"k":"r"},{"i":113,"v":-0.00099,"k":"r"},{"i":114,"v":-0.00109,"k":"r"},{"i":115,"v":-0.00131,"k":"r"},{"i":116,"v":-0.00138,"k":"r"},{"i":117,"v":-0.00138,"k":"r"},{"i":118,"v":-0.00131,"k":"lr"},{"i":119,"v":-0.00138,"k":"r"},{"i":120,"v":-0.00145,"k":"r"},{"i":121,"v":-0.0016,"k":"r"},{"i":122,"v":-0.00131,"k":"lr"},{"i":123,"v":-0.00128,"k":"lr"},{"i":124,"v":-0.00123,"k":"lr"},{"i":125,"v":-0.00119,"k":"lr"},{"i":126,"v":-0.00087,"k":"lr"},{"i":127,"v":-0.00012,"k":"lr"},{"i":128,"v":0.00036,"k":"g"},{"i":129,"v":0.00068,"k":"g"},{"i":130,"v":0.00087,"k":"g"},{"i":131,"v":0.00084,"k":"lg"},{"i":132,"v":0.00084,"k":"lg"},{"i":133,"v":0.00073,"k":"lg"},{"i":134,"v":0.00065,"k":"lg"},{"i":135,"v":0.0007,"k":"g"},{"i":136,"v":0.00051,"k":"lg"},{"i":137,"v":0.00039,"k":"lg"},{"i":138,"v":-0.00004,"k":"r"},{"i":139,"v":-0.00065,"k":"r"},{"i":140,"v":-0.00094,"k":"r"},{"i":141,"v":-0.00104,"k":"r"},{"i":142,"v":-0.00073,"k":"lr"},{"i":143,"v":-0.00075,"k":"lr"},{"i":144,"v":-0.0007,"k":"lr"},{"i":145,"v":-0.00102,"k":"r"},{"i":146,"v":-0.00138,"k":"r"},{"i":147,"v":-0.00152,"k":"r"},{"i":148,"v":-0.00128,"k":"lr"},{"i":149,"v":-0.00094,"k":"lr"},{"i":150,"v":-0.00065,"k":"lr"},{"i":151,"v":-0.00029,"k":"lr"},{"i":152,"v":-0.00007,"k":"lr"},{"i":153,"v":0.00017,"k":"g"},{"i":154,"v":0.00062,"k":"g"},{"i":155,"v":0.0009,"k":"g"},{"i":156,"v":0.00099,"k":"g"},{"i":157,"v":0.00128,"k":"g"},{"i":158,"v":0.00116,"k":"lg"},{"i":159,"v":0.00099,"k":"lg"},{"i":160,"v":0.00087,"k":"lg"},{"i":161,"v":0.00075,"k":"lg"},{"i":162,"v":0.0009,"k":"g"},{"i":163,"v":0.0008,"k":"lg"},{"i":164,"v":0.00084,"k":"g"},{"i":165,"v":0.00058,"k":"lg"},{"i":166,"v":0.00046,"k":"lg"},{"i":167,"v":0.00051,"k":"g"},{"i":168,"v":0.00039,"k":"lg"},{"i":169,"v":0.00032,"k":"lg"},{"i":170,"v":-0.00006,"k":"r"},{"i":171,"v":-0.00015,"k":"r"},{"i":172,"v":-0.00022,"k":"r"},{"i":173,"v":-0.0002,"k":"lr"},{"i":174,"v":-0.00003,"k":"lr"},{"i":175,"v":-0.00007,"k":"r"},{"i":176,"v":-0.00029,"k":"r"},{"i":177,"v":-0.00044,"k":"r"},{"i":178,"v":-0.00039,"k":"lr"},{"i":179,"v":-0.00039,"k":"lr"},{"i":180,"v":-0.00004,"k":"lr"},{"i":181,"v":0.00004,"k":"g"},{"i":182,"v":0.0001,"k":"g"},{"i":183,"v":0.00017,"k":"g"},{"i":184,"v":-0.00012,"k":"r"},{"i":185,"v":-0.00017,"k":"r"},{"i":186,"v":-0.0008,"k":"r"},{"i":187,"v":-0.00083,"k":"r"},{"i":188,"v":-0.00044,"k":"lr"},{"i":189,"v":-0.00029,"k":"lr"},{"i":190,"v":-0.00015,"k":"lr"},{"i":191,"v":-0.00022,"k":"r"},{"i":192,"v":-0.00055,"k":"r"},{"i":193,"v":-0.00065,"k":"r"},{"i":194,"v":-0.00065,"k":"lr"},{"i":195,"v":-0.0007,"k":"r"},{"i":196,"v":-0.0008,"k":"r"},{"i":197,"v":-0.00104,"k":"r"},{"i":198,"v":-0.00094,"k":"lr"},{"i":199,"v":-0.0009,"k":"lr"},{"i":200,"v":-0.00087,"k":"r"},{"i":201,"v":-0.00058,"k":"lr"},{"i":202,"v":-0.00022,"k":"lr"},{"i":203,"v":0.0002,"k":"g"},{"i":204,"v":0.00007,"k":"lg"},{"i":205,"v":0.00006,"k":"lg"},{"i":206,"v":-0.00055,"k":"r"},{"i":207,"v":-0.0007,"k":"r"},{"i":208,"v":-0.00051,"k":"lr"},{"i":209,"v":-0.00041,"k":"lr"},{"i":210,"v":-0.00015,"k":"lr"},{"i":211,"v":-0.00003,"k":"lr"},{"i":212,"v":0.00044,"k":"g"},{"i":213,"v":0.00087,"k":"g"},{"i":214,"v":0.00102,"k":"g"},{"i":215,"v":0.00113,"k":"g"},{"i":216,"v":0.00044,"k":"lg"},{"i":217,"v":0.00029,"k":"lg"},{"i":218,"v":0.00015,"k":"lg"},{"i":219,"v":0.00007,"k":"lg"},{"i":220,"v":0.00004,"k":"lg"},{"i":221,"v":0.00029,"k":"g"},{"i":222,"v":0.00009,"k":"lg"},{"i":223,"v":-0.00004,"k":"r"},{"i":224,"v":0.00051,"k":"g"},{"i":225,"v":0.0007,"k":"g"},{"i":226,"v":0.00084,"k":"g"},{"i":227,"v":0.00094,"k":"g"},{"i":228,"v":0.00116,"k":"g"},{"i":229,"v":0.00099,"k":"g"},{"i":230,"v":0.00109,"k":"g"},{"i":231,"v":0.00113,"k":"g"},{"i":232,"v":0.00119,"k":"g"},{"i":233,"v":0.00104,"k":"lg"},{"i":234,"v":0.00091,"k":"lg"},{"i":235,"v":0.00087,"k":"lg"},{"i":236,"v":0.00087,"k":"g"},{"i":237,"v":0.00087,"k":"g"},{"i":238,"v":0.00099,"k":"g"},{"i":239,"v":0.00099,"k":"lg"},{"i":240,"v":0.00073,"k":"lg"},{"i":241,"v":0.00032,"k":"lg"},{"i":242,"v":-0.00006,"k":"r"},{"i":243,"v":-0.00058,"k":"r"},{"i":244,"v":-0.00065,"k":"r"},{"i":245,"v":-0.00065,"k":"lr"},{"i":246,"v":-0.00075,"k":"r"},{"i":247,"v":-0.00084,"k":"r"},{"i":248,"v":-0.0009,"k":"r"},{"i":249,"v":-0.00094,"k":"r"},{"i":250,"v":-0.00084,"k":"lr"},{"i":251,"v":-0.0009,"k":"r"},{"i":252,"v":-0.00102,"k":"r"},{"i":253,"v":-0.0011,"k":"r"},{"i":254,"v":-0.00113,"k":"r"},{"i":255,"v":-0.00113,"k":"r"},{"i":256,"v":-0.0008,"k":"lr"},{"i":257,"v":-0.00075,"k":"lr"},{"i":258,"v":-0.00075,"k":"lr"},{"i":259,"v":-0.0008,"k":"r"},{"i":260,"v":-0.00032,"k":"lr"},{"i":261,"v":-0.00012,"k":"lr"},{"i":262,"v":-0.00004,"k":"lr"},{"i":263,"v":-0.00004,"k":"lr"},{"i":264,"v":-0.00003,"k":"lr"},{"i":265,"v":0.00007,"k":"g"},{"i":266,"v":0.00022,"k":"g"},{"i":267,"v":0.00039,"k":"g"},{"i":268,"v":0.00044,"k":"lg"},{"i":269,"v":0.00041,"k":"lg"},{"i":270,"v":0.00041,"k":"lg"},{"i":271,"v":0.00061,"k":"g"},{"i":272,"v":0.00061,"k":"lg"},{"i":273,"v":0.00055,"k":"lg"},{"i":274,"v":0.00061,"k":"g"},{"i":275,"v":0.00051,"k":"lg"},{"i":276,"v":0.00048,"k":"lg"},{"i":277,"v":0.00051,"k":"g"},{"i":278,"v":0.00051,"k":"lg"},{"i":279,"v":0.00051,"k":"g"},{"i":280,"v":0.00055,"k":"g"},{"i":281,"v":0.00065,"k":"g"},{"i":282,"v":0.00051,"k":"lg"},{"i":283,"v":0.00025,"k":"lg"},{"i":284,"v":0.00036,"k":"lg"},{"i":285,"v":0.00022,"k":"lg"},{"i":286,"v":0.00007,"k":"lg"},{"i":287,"v":-0.00015,"k":"r"},{"i":288,"v":-0.00044,"k":"r"},{"i":289,"v":-0.00046,"k":"r"},{"i":290,"v":-0.00003,"k":"lr"},{"i":291,"v":-0.00058,"k":"r"},{"i":292,"v":-0.00075,"k":"r"},{"i":293,"v":-0.00041,"k":"lr"},{"i":294,"v":-0.00065,"k":"lr"},{"i":295,"v":-0.00116,"k":"r"},{"i":296,"v":-0.0012,"k":"r"},{"i":297,"v":-0.00116,"k":"lr"},{"i":298,"v":-0.00102,"k":"lr"},{"i":299,"v":-0.0008,"k":"lr"},{"i":300,"v":-0.00065,"k":"lr"},{"i":301,"v":-0.00044,"k":"lr"},{"i":302,"v":-0.0008,"k":"r"},{"i":303,"v":-0.00073,"k":"lr"},{"i":304,"v":-0.00051,"k":"lr"},{"i":305,"v":-0.00058,"k":"r"},{"i":306,"v":-0.00044,"k":"lr"},{"i":307,"v":-0.00029,"k":"lr"},{"i":308,"v":-0.00022,"k":"lr"},{"i":309,"v":-0.00012,"k":"lr"},{"i":310,"v":-0.00004,"k":"lr"},{"i":311,"v":-0.00004,"k":"lr"},{"i":312,"v":-0.00003,"k":"lr"},{"i":313,"v":-0.00012,"k":"r"},{"i":314,"v":-0.00007,"k":"lr"},{"i":315,"v":0.00003,"k":"g"},{"i":316,"v":0.00003,"k":"g"},{"i":317,"v":0.00017,"k":"g"},{"i":318,"v":0.00022,"k":"g"},{"i":319,"v":0.00007,"k":"lg"},{"i":320,"v":0.00022,"k":"g"},{"i":321,"v":0.00044,"k":"g"},{"i":322,"v":0.0007,"k":"g"},{"i":323,"v":0.00087,"k":"g"},{"i":324,"v":0.00099,"k":"g"},{"i":325,"v":0.00116,"k":"g"},{"i":326,"v":0.00133,"k":"g"},{"i":327,"v":0.00141,"k":"g"},{"i":328,"v":0.00123,"k":"lg"},{"i":329,"v":0.00104,"k":"lg"},{"i":330,"v":0.00094,"k":"lg"},{"i":331,"v":0.00102,"k":"g"},{"i":332,"v":0.00119,"k":"g"},{"i":333,"v":0.00094,"k":"lg"},{"i":334,"v":0.00073,"k":"lg"},{"i":335,"v":0.00058,"k":"lg"},{"i":336,"v":0.00041,"k":"lg"}],
"zones":[{"i":-0.7,"i2":361.1,"p":1.19235,"p2":1.18985},{"i":-0.7,"i2":361.1,"p":1.1871,"p2":1.18425},{"i":-0.7,"i2":361.1,"p":1.1735,"p2":1.16885},{"i":-0.7,"i2":361.1,"p":1.13794,"p2":1.13548},{"i":-0.7,"i2":361.1,"p":1.13133,"p2":1.12899}],
"levels":[{"i":-0.7,"i2":403.6,"p":1.19235,"t":"(1.19235)"},{"i":-0.7,"i2":403.6,"p":1.19028,"t":"(1.19028)"},{"i":361.6,"i2":403.6,"p":1.1871,"t":"(1.18710)"},{"i":361.6,"i2":403.6,"p":1.18425,"t":"(1.18425)"},{"i":-0.7,"i2":403.6,"p":1.1616,"t":"(1.16160)"},{"i":-0.7,"i2":403.6,"p":1.15317,"t":"(1.15317)"},{"i":-0.7,"i2":403.6,"p":1.13794,"t":"(1.13794)"},{"i":361.6,"i2":403.6,"p":1.13548,"t":"(1.13548)"},{"i":361.6,"i2":403.6,"p":1.12899,"t":"(1.12899)"}],
"blacks":[{"i":-0.7,"i2":419.1,"p":1.16923,"t":"1.16923","hi":1.1706,"lo":1.1678,"b0":419.1,"b1":431.2,"m":425},{"i":-0.7,"i2":419.1,"p":1.14927,"t":"1.14927","hi":1.1506,"lo":1.1479,"b0":419.1,"b1":431.2,"m":425},{"i":361.6,"i2":419.1,"p":1.13133,"t":"1.13133","hi":1.1327,"lo":1.13,"b0":419.1,"b1":431.2,"m":425}],
"ends":[{"i":418.6,"i2":419.1,"p":1.19235},{"i":418.6,"i2":419.1,"p":1.19028},{"i":418.6,"i2":419.1,"p":1.1871},{"i":418.6,"i2":419.1,"p":1.18425},{"i":418.6,"i2":419.1,"p":1.1616},{"i":418.6,"i2":419.1,"p":1.15317},{"i":418.6,"i2":419.1,"p":1.13794},{"i":418.6,"i2":419.1,"p":1.13548},{"i":418.6,"i2":419.1,"p":1.12899}],
"flag":[{"x":197,"x2":221,"y":20,"y2":24,"k":"n"},{"x":221,"x2":245,"y":20,"y2":24,"k":"r"},{"x":187.5,"x2":221,"y":24,"y2":28,"k":"n"},{"x":221,"x2":254.5,"y":24,"y2":28,"k":"r"},{"x":180.6,"x2":221,"y":28,"y2":32,"k":"n"},{"x":221,"x2":261.4,"y":28,"y2":32,"k":"w"},{"x":175,"x2":221,"y":32,"y2":36,"k":"n"},{"x":221,"x2":267,"y":32,"y2":36,"k":"w"},{"x":170.4,"x2":221,"y":36,"y2":40,"k":"n"},{"x":221,"x2":271.6,"y":36,"y2":40,"k":"w"},{"x":166.4,"x2":221,"y":40,"y2":44,"k":"n"},{"x":221,"x2":275.6,"y":40,"y2":44,"k":"r"},{"x":163,"x2":221,"y":44,"y2":48,"k":"n"},{"x":221,"x2":279,"y":44,"y2":48,"k":"r"},{"x":160,"x2":221,"y":48,"y2":52,"k":"n"},{"x":221,"x2":282,"y":48,"y2":52,"k":"r"},{"x":157.5,"x2":221,"y":52,"y2":56,"k":"n"},{"x":221,"x2":284.5,"y":52,"y2":56,"k":"w"},{"x":155.3,"x2":221,"y":56,"y2":60,"k":"n"},{"x":221,"x2":286.7,"y":56,"y2":60,"k":"w"},{"x":153.4,"x2":221,"y":60,"y2":64,"k":"n"},{"x":221,"x2":288.6,"y":60,"y2":64,"k":"w"},{"x":151.7,"x2":221,"y":64,"y2":68,"k":"n"},{"x":221,"x2":290.3,"y":64,"y2":68,"k":"r"},{"x":150.3,"x2":221,"y":68,"y2":72,"k":"n"},{"x":221,"x2":291.7,"y":68,"y2":72,"k":"r"},{"x":149.2,"x2":221,"y":72,"y2":76,"k":"n"},{"x":221,"x2":292.8,"y":72,"y2":76,"k":"r"},{"x":148.3,"x2":221,"y":76,"y2":80,"k":"n"},{"x":221,"x2":293.7,"y":76,"y2":80,"k":"w"},{"x":147.7,"x2":221,"y":80,"y2":84,"k":"n"},{"x":221,"x2":294.3,"y":80,"y2":84,"k":"w"},{"x":147.2,"x2":221,"y":84,"y2":88,"k":"n"},{"x":221,"x2":294.8,"y":84,"y2":88,"k":"w"},{"x":147,"x2":221,"y":88,"y2":92,"k":"n"},{"x":221,"x2":295,"y":88,"y2":92,"k":"r"},{"x":147,"x2":221,"y":92,"y2":96,"k":"n"},{"x":221,"x2":295,"y":92,"y2":96,"k":"r"},{"x":147,"x2":221,"y":96,"y2":100,"k":"n"},{"x":221,"x2":295,"y":96,"y2":100,"k":"r"},{"x":147.2,"x2":294.8,"y":100,"y2":104,"k":"w"},{"x":147.7,"x2":294.3,"y":104,"y2":108,"k":"w"},{"x":148.3,"x2":293.7,"y":108,"y2":112,"k":"w"},{"x":149.2,"x2":292.8,"y":112,"y2":116,"k":"r"},{"x":150.3,"x2":291.7,"y":116,"y2":120,"k":"r"},{"x":151.7,"x2":290.3,"y":120,"y2":124,"k":"r"},{"x":153.4,"x2":288.6,"y":124,"y2":128,"k":"w"},{"x":155.3,"x2":286.7,"y":128,"y2":132,"k":"w"},{"x":157.5,"x2":284.5,"y":132,"y2":136,"k":"w"},{"x":160,"x2":282,"y":136,"y2":140,"k":"r"},{"x":163,"x2":279,"y":140,"y2":144,"k":"r"},{"x":166.4,"x2":275.6,"y":144,"y2":148,"k":"r"},{"x":170.4,"x2":271.6,"y":148,"y2":152,"k":"r"},{"x":175,"x2":267,"y":152,"y2":156,"k":"w"},{"x":180.6,"x2":261.4,"y":156,"y2":160,"k":"w"},{"x":187.5,"x2":254.5,"y":160,"y2":164,"k":"w"},{"x":197,"x2":245,"y":164,"y2":168,"k":"r"}]
},
"resolve":{"scale":{"x":"independent","y":"independent","color":"independent"},"axis":{"x":"independent","y":"independent"}},
"layer":[
{"encoding":{"x":{"field":"x","type":"quantitative","scale":{"domain":[0,1920],"range":[0,1920]},"axis":null},"y":{"field":"y","type":"quantitative","scale":{"domain":[0,1080],"range":[0,1080]},"axis":null}},
"layer":[
{"data":{"values":[{"x":0,"y":0,"y2":202},{"x":1920,"y":0,"y2":55}]},"mark":{"type":"area","color":{"gradient":"linear","x1":0,"y1":0,"x2":1,"y2":0,"stops":[{"offset":0,"color":"#05308a"},{"offset":0.4,"color":"#0050ad"},{"offset":1,"color":"#0a8cf0"}]}},"encoding":{"y2":{"field":"y2"}}},
{"data":{"values":[{"x":55,"y":198,"y2":233},{"x":800,"y":141,"y2":163},{"x":1920,"y":55,"y2":58}]},"mark":{"type":"area","color":"#0094ff"},"encoding":{"y2":{"field":"y2"}}},
{"data":{"values":[{"x":0,"y":1048,"y2":1080},{"x":1920,"y":965,"y2":1080}]},"mark":{"type":"area","color":{"gradient":"linear","x1":0,"y1":0,"x2":1,"y2":0,"stops":[{"offset":0,"color":"#0a7be0"},{"offset":0.6,"color":"#0050ad"},{"offset":1,"color":"#05308a"}]}},"encoding":{"y2":{"field":"y2"}}},
{"data":{"values":[{"x":0,"y":1048,"y2":1048},{"x":1875,"y":933,"y2":968}]},"mark":{"type":"area","color":"#0094ff"},"encoding":{"y2":{"field":"y2"}}},
{"data":{"values":[{"x":1248.4,"y":830.8,"y2":830.8},{"x":1372.9,"y":533.2,"y2":830.8},{"x":1417.8,"y":425.7,"y2":702.7},{"x":1448.4,"y":429.2,"y2":615.4},{"x":1470.8,"y":431.6,"y2":665.2},{"x":1491.2,"y":388.5,"y2":710.2},{"x":1532,"y":302.3,"y2":710.2},{"x":1559.8,"y":243.8,"y2":654.1},{"x":1580.2,"y":243.8,"y2":612.6},{"x":1602.2,"y":243.8,"y2":663.2},{"x":1674.9,"y":415.8,"y2":830.8},{"x":1850.4,"y":830.8,"y2":830.8}]},"mark":{"type":"area","color":"#e9ebf2"},"encoding":{"y2":{"field":"y2"}}},
{"data":{"values":[{"x":1601.4,"x2":1491.2,"y":243.8,"y2":490.9,"w":5},{"x":1454.5,"x2":1287.1,"y":425.7,"y2":830.8,"w":6},{"x":1468.8,"x2":1534,"y":566,"y2":710,"w":3},{"x":1601.4,"x2":1713.7,"y":566,"y2":830.8,"w":3}]},"mark":{"type":"rule","color":"white"},"encoding":{"x2":{"field":"x2"},"y2":{"field":"y2"},"strokeWidth":{"field":"w","type":"quantitative","scale":null}}},
{"data":{"values":[{"x":1245,"y":907,"t":"MISHOV"},{"x":1541,"y":907,"t":"MARKETS"}]},"mark":{"type":"text","font":"Roboto","fontWeight":700,"fontSize":68,"align":"left","baseline":"alphabetic","color":"#e9ebf2"},"encoding":{"text":{"field":"t"}}},
{"data":{"values":[{"x":9,"x2":1910,"y":249,"y2":914}]},"mark":{"type":"rect","fillOpacity":0,"stroke":"#f0f2f7","strokeWidth":2},"encoding":{"x2":{"field":"x2"},"y2":{"field":"y2"}}},
{"data":{"values":[{"x":9,"x2":1910,"y":707},{"x":9,"x2":1910,"y":797}]},"mark":{"type":"rule","color":"#f0f2f7","strokeWidth":2},"encoding":{"x2":{"field":"x2"}}},
{"data":{"values":[{"x":146,"x2":221,"y":20,"y2":168}]},"mark":{"type":"rect","color":"white"},"encoding":{"x2":{"field":"x2"},"y2":{"field":"y2"}}},
{"data":{"values":[{"x":131,"y":94}]},"mark":{"type":"point","shape":"circle","filled":true,"size":21904,"color":"#0a3598","stroke":"#3f63b8","strokeWidth":1,"opacity":1}},
{"data":{"values":[{"x":128.6,"y":50},{"x":105.6,"y":57},{"x":89,"y":73},{"x":84,"y":96},{"x":90,"y":117},{"x":106,"y":134},{"x":129,"y":140},{"x":149,"y":134},{"x":150,"y":57}]},"mark":{"type":"point","shape":"M0,-1L0.29,-0.4L0.95,-0.31L0.48,0.15L0.59,0.81L0,0.5L-0.59,0.81L-0.48,0.15L-0.95,-0.31L-0.29,-0.4Z","filled":true,"size":120,"color":"#ffcc00","opacity":1}},
{"data":{"values":[{"x":213,"y":94}]},"mark":{"type":"point","shape":"circle","filled":true,"size":24336,"color":"white","opacity":1}},
{"data":{"name":"flag"},"mark":{"type":"rect"},"encoding":{"x2":{"field":"x2"},"y2":{"field":"y2"},"color":{"field":"k","type":"nominal","legend":null,"scale":{"domain":["n","r","w"],"range":["#0a2a6b","#bf0d30","#ffffff"]}}}},
{"data":{"values":[{"x":221,"y":94}]},"mark":{"type":"arc","radius":80,"radius2":74,"theta":0,"theta2":3.1416,"color":"#043b97"}},
{"data":{"values":[{"x":221,"y":94}]},"mark":{"type":"arc","radius":79,"radius2":74,"theta":3.1416,"theta2":6.2832,"color":"white"}},
{"data":{"values":[{"x":165,"x2":225,"y":13,"y2":20},{"x":165,"x2":225,"y":168,"y2":175}]},"mark":{"type":"rect","color":"#043894"},"encoding":{"x2":{"field":"x2"},"y2":{"field":"y2"}}},
{"data":{"values":[{"x":180,"y":33},{"x":203,"y":33},{"x":213,"y":21},{"x":168,"y":44},{"x":191,"y":44},{"x":213,"y":44},{"x":158,"y":57},{"x":180,"y":57},{"x":202,"y":57},{"x":168,"y":69},{"x":191,"y":69},{"x":213,"y":69},{"x":158,"y":82},{"x":180,"y":82},{"x":202,"y":82},{"x":148,"y":93},{"x":168,"y":93},{"x":191,"y":93},{"x":213,"y":93}]},"mark":{"type":"point","shape":"M0,-1L0.29,-0.4L0.95,-0.31L0.48,0.15L0.59,0.81L0,0.5L-0.59,0.81L-0.48,0.15L-0.95,-0.31L-0.29,-0.4Z","filled":true,"size":40,"color":"white","opacity":1}},
{"data":{"values":[{"x":336,"y":129}]},"mark":{"type":"text","text":"EURUSD","font":"Liberation Serif","fontWeight":700,"fontSize":105,"align":"left","baseline":"alphabetic","color":"white"}},
{"data":{"values":[{"x":1481,"y":1051}]},"mark":{"type":"text","text":"11/10/2025","font":"Liberation Serif","fontSize":63,"align":"left","baseline":"alphabetic","color":"white"}},
{"data":{"values":[{"x":1805,"x2":1872,"y":997,"y2":1058}]},"mark":{"type":"rect","fillOpacity":0,"stroke":"white","strokeWidth":4},"encoding":{"x2":{"field":"x2"},"y2":{"field":"y2"}}},
{"data":{"values":[{"x":1805,"x2":1872,"y":1012},{"x":1822,"x2":1832,"y":990},{"x":1848,"x2":1858,"y":990}]},"mark":{"type":"rule","color":"white","strokeWidth":5},"encoding":{"x2":{"field":"x2"}}},
{"data":{"values":[{"x":9,"y":238}]},"mark":{"type":"text","text":"MishovMarkets created with TradingView.com, Nov 10, 2025 09:18 UTC+3","fontSize":11.4,"align":"left","baseline":"middle","color":"#333333"}},
{"data":{"values":[{"x":47,"y":951}]},"mark":{"type":"text","text":"TradingView","fontWeight":500,"fontSize":21,"align":"left","baseline":"alphabetic","color":"#131722"}},
{"data":{"values":[{"x":11,"x2":25,"y":938,"y2":944},{"x":18,"x2":25,"y":938,"y2":951}]},"mark":{"type":"rect","color":"#131722"},"encoding":{"x2":{"field":"x2"},"y2":{"field":"y2"}}},
{"data":{"values":[{"x":28.5,"y":941}]},"mark":{"type":"point","shape":"circle","filled":true,"size":43,"color":"#131722","opacity":1}},
{"data":{"values":[{"x":29,"y":951,"y2":951},{"x":33,"y":938,"y2":951},{"x":36,"y":938,"y2":951},{"x":41,"y":938,"y2":938}]},"mark":{"type":"area","color":"#131722"},"encoding":{"y2":{"field":"y2"}}},
{"data":{"values":[{"x":1620,"y":373,"y2":373},{"x":1650,"y":349,"y2":358},{"x":1665,"y":337,"y2":350},{"x":1670,"y":327,"y2":347},{"x":1682,"y":326.5,"y2":345},{"x":1691,"y":326,"y2":326}]},"mark":{"type":"area","color":"#0a1f6e"},"encoding":{"y2":{"field":"y2"}}},
{"data":{"values":[{"x":1611.6,"y":632,"y2":632},{"x":1640,"y":643,"y2":651},{"x":1655,"y":650,"y2":664},{"x":1662,"y":652,"y2":676.7},{"x":1673,"y":659,"y2":677},{"x":1683,"y":677.4,"y2":677.4}]},"mark":{"type":"area","color":"#0a1f6e"},"encoding":{"y2":{"field":"y2"}}}
]},
{"encoding":{"x":{"field":"i","type":"quantitative","scale":{"domain":[-1,434],"range":[7.8,1914.4],"padding":0},"axis":null}},
"layer":[
{"data":{"name":"zones"},"mark":{"type":"rect","fill":"#9b7ede","fillOpacity":0.22,"stroke":"#9468d2","strokeWidth":2},"encoding":{"x2":{"field":"i2"},"y":{"field":"p","type":"quantitative","scale":{"type":"log","domain":[1.12022,1.19431],"range":[707,250]},"axis":null},"y2":{"field":"p2"}}},
{"data":{"name":"levels"},"mark":{"type":"rule","color":"#131722","strokeWidth":2,"strokeDash":[2,2.7]},"encoding":{"x2":{"field":"i2"},"y":{"field":"p","type":"quantitative","scale":{"type":"log","domain":[1.12022,1.19431],"range":[707,250]},"axis":null}}},
{"data":{"name":"ends"},"mark":{"type":"rule","color":"#131722","strokeWidth":2},"encoding":{"x2":{"field":"i2"},"y":{"field":"p","type":"quantitative","scale":{"type":"log","domain":[1.12022,1.19431],"range":[707,250]},"axis":null}}},
{"data":{"name":"blacks"},"mark":{"type":"rule","color":"#131722","strokeWidth":2,"strokeDash":[2,2.7]},"encoding":{"x2":{"field":"i2"},"y":{"field":"p","type":"quantitative","scale":{"type":"log","domain":[1.12022,1.19431],"range":[707,250]},"axis":null}}},
{"data":{"values":[{"i":-0.7,"i2":419.1,"p":1.15632}]},"mark":{"type":"rule","color":"#089981","strokeWidth":1,"strokeDash":[1,2]},"encoding":{"x2":{"field":"i2"},"y":{"field":"p","type":"quantitative","scale":{"type":"log","domain":[1.12022,1.19431],"range":[707,250]},"axis":null}}},
{"data":{"name":"candles"},"mark":{"type":"rule","strokeWidth":1},"encoding":{"y":{"field":"h","type":"quantitative","scale":{"type":"log","domain":[1.12022,1.19431],"range":[707,250]},"axis":null},"y2":{"field":"l"},"color":{"condition":{"test":"datum.c>=datum.o","value":"#089981"},"value":"#f23645"}}},
{"data":{"name":"candles"},"mark":{"type":"bar","size":3},"encoding":{"y":{"field":"o","type":"quantitative","scale":{"type":"log","domain":[1.12022,1.19431],"range":[707,250]},"axis":null},"y2":{"field":"c"},"color":{"condition":{"test":"datum.c>=datum.o","value":"#089981"},"value":"#f23645"}}},
{"data":{"name":"levels"},"mark":{"type":"text","fontSize":11,"color":"#444444","align":"center","baseline":"middle"},"encoding":{"x":{"datum":411.6,"type":"quantitative"},"y":{"field":"p","type":"quantitative","scale":{"type":"log","domain":[1.12022,1.19431],"range":[707,250]},"axis":null},"text":{"field":"t"}}},
{"data":{"name":"blacks"},"mark":{"type":"rect","color":"#000000"},"encoding":{"x":{"field":"b0","type":"quantitative"},"x2":{"field":"b1"},"y":{"field":"hi","type":"quantitative","scale":{"type":"log","domain":[1.12022,1.19431],"range":[707,250]},"axis":null},"y2":{"field":"lo"}}},
{"data":{"name":"blacks"},"mark":{"type":"text","fontSize":11,"fontWeight":700,"color":"white","align":"center","baseline":"middle"},"encoding":{"x":{"field":"m","type":"quantitative"},"y":{"field":"p","type":"quantitative","scale":{"type":"log","domain":[1.12022,1.19431],"range":[707,250]},"axis":null},"text":{"field":"t"}}},
{"data":{"values":[{"i":407.9,"i2":418.6,"p":1.1574,"p2":1.1548},{"i":419.3,"i2":431.9,"p":1.1574,"p2":1.1527}]},"mark":{"type":"rect","color":"#089981"},"encoding":{"x2":{"field":"i2"},"y":{"field":"p","type":"quantitative","scale":{"type":"log","domain":[1.12022,1.19431],"range":[707,250]},"axis":null},"y2":{"field":"p2"}}},
{"data":{"values":[{"i":413.2,"p":1.1561,"t":"EURUSD"},{"i":425.4,"p":1.1563,"t":"1.15632"}]},"mark":{"type":"text","fontSize":11,"fontWeight":500,"color":"white","align":"center","baseline":"middle"},"encoding":{"y":{"field":"p","type":"quantitative","scale":{"type":"log","domain":[1.12022,1.19431],"range":[707,250]},"axis":null},"text":{"field":"t"}}},
{"data":{"values":[{"i":425.4,"p":1.154,"t":"03:41:28"}]},"mark":{"type":"text","fontSize":11,"color":"#c4ece2","align":"center","baseline":"middle"},"encoding":{"y":{"field":"p","type":"quantitative","scale":{"type":"log","domain":[1.12022,1.19431],"range":[707,250]},"axis":null},"text":{"field":"t"}}}
]},
{"encoding":{"x":{"field":"i","type":"quantitative","scale":{"domain":[-1,434],"range":[7.8,1914.4],"padding":0},"axis":null}},
"layer":[
{"data":{"values":[{"i":-0.7,"i2":419.1,"v":70,"v2":30}]},"mark":{"type":"rect","color":"#2a3a8a","opacity":0.12},"encoding":{"x2":{"field":"i2"},"y":{"field":"v","type":"quantitative","scale":{"domain":[21.2,88.4],"range":[797,708]},"axis":null},"y2":{"field":"v2"}}},
{"data":{"values":[{"i":-0.7,"i2":419.1,"v":70},{"i":-0.7,"i2":419.1,"v":50},{"i":-0.7,"i2":419.1,"v":30}]},"mark":{"type":"rule","color":"#787b86","strokeWidth":1,"strokeDash":[4,4]},"encoding":{"x2":{"field":"i2"},"y":{"field":"v","type":"quantitative","axis":null}}},
{"data":{"name":"rsima"},"mark":{"type":"line","color":"#f2dd8b","strokeWidth":1.2,"interpolate":"monotone"},"encoding":{"y":{"field":"v","type":"quantitative","axis":null}}},
{"data":{"name":"rsi"},"mark":{"type":"line","color":"#0d2a7a","strokeWidth":2},"encoding":{"y":{"field":"v","type":"quantitative","axis":null}}},
{"data":{"values":[{"i":1.3,"v":77.8,"t":"RSI"}]},"mark":{"type":"text","fontSize":10,"color":"#444444","align":"left","baseline":"middle"},"encoding":{"y":{"field":"v","type":"quantitative","axis":null},"text":{"field":"t"}}},
{"data":{"values":[{"i":419.1,"i2":428.2,"v":65.7,"v2":52.9,"k":"a"},{"i":419.1,"i2":428.2,"v":52.9,"v2":40.9,"k":"b"}]},"mark":{"type":"rect"},"encoding":{"x2":{"field":"i2"},"y":{"field":"v","type":"quantitative","axis":null},"y2":{"field":"v2"},"color":{"field":"k","type":"nominal","legend":null,"scale":{"domain":["a","b"],"range":["#0d2a7a","#ffd83d"]}}}},
{"data":{"values":[{"i":423.7,"v":59.3,"t":"59.21"}]},"mark":{"type":"text","fontSize":11,"fontWeight":500,"color":"white","align":"center","baseline":"middle"},"encoding":{"y":{"field":"v","type":"quantitative","axis":null},"text":{"field":"t"}}},
{"data":{"values":[{"i":423.7,"v":47,"t":"56.98"}]},"mark":{"type":"text","fontSize":11,"fontWeight":500,"color":"#222222","align":"center","baseline":"middle"},"encoding":{"y":{"field":"v","type":"quantitative","axis":null},"text":{"field":"t"}}}
]},
{"encoding":{"x":{"field":"i","type":"quantitative","scale":{"domain":[-1,434],"range":[7.8,1914.4],"padding":0},"axis":{"orient":"bottom","zindex":1,"title":null,"grid":false,"domain":false,"ticks":false,"offset":-185,"labelPadding":0,"labelBaseline":"top","labelFontSize":11,"labelColor":"#333333","labelFont":"Roboto","labelOverlap":false,"labelFlush":false,"values":[10,22,34,46,58,70,82,94,106,118,130,142,154,166,178,190,202,214,226,238,250,262,274,286,304,316,328,340,352,364,376,388,400,412],"labelExpr":"{'10':'26','22':'28','34':'Sep','46':'3','58':'5','70':'9','82':'11','94':'15','106':'17','118':'19','130':'23','142':'25','154':'29','166':'Oct','178':'3','190':'7','202':'9','214':'13','226':'15','238':'17','250':'21','262':'23','274':'27','286':'29','304':'Nov','316':'5','328':'7','340':'11','352':'13','364':'17','376':'19','388':'21','400':'25','412':'27'}[datum.value]"}}},
"layer":[
{"data":{"name":"macd"},"mark":{"type":"bar","size":3},"encoding":{"y":{"field":"v","type":"quantitative","scale":{"domain":[-0.00301,0.00208],"range":[914,797]},"axis":null},"color":{"field":"k","type":"nominal","legend":null,"scale":{"domain":["g","lg","r","lr"],"range":["#1c9a8a","#b2dfdb","#f44c4c","#ffcdd2"]}}}},
{"data":{"values":[{"i":-0.7,"i2":419.1,"v":0}]},"mark":{"type":"rule","color":"#c4c7d0","strokeWidth":1,"strokeDash":[4,4]},"encoding":{"x2":{"field":"i2"},"y":{"field":"v","type":"quantitative","axis":null}}},
{"data":{"values":[{"i":1.3,"v":0.00142,"t":"MACD"}]},"mark":{"type":"text","fontSize":10,"color":"#444444","align":"left","baseline":"middle"},"encoding":{"y":{"field":"v","type":"quantitative","axis":null},"text":{"field":"t"}}},
{"data":{"values":[{"i":419.1,"i2":431.2,"v":0.00073,"v2":0.00007}]},"mark":{"type":"rect","color":"#b2dfdb"},"encoding":{"x2":{"field":"i2"},"y":{"field":"v","type":"quantitative","axis":null},"y2":{"field":"v2"}}},
{"data":{"values":[{"i":425,"v":0.00042,"t":"0.00041"}]},"mark":{"type":"text","fontSize":11,"color":"#333333","align":"center","baseline":"middle"},"encoding":{"y":{"field":"v","type":"quantitative","axis":null},"text":{"field":"t"}}}
]},
{"data":{"values":[{"p":1.19},{"p":1.185},{"p":1.18},{"p":1.175},{"p":1.17},{"p":1.165},{"p":1.16},{"p":1.15},{"p":1.144},{"p":1.138},{"p":1.127},{"p":1.1225}]},"mark":{"type":"rule","opacity":0},"encoding":{"y":{"field":"p","type":"quantitative","scale":{"type":"log","domain":[1.12022,1.19431],"range":[707,250]},"axis":{"orient":"right","zindex":0,"values":[1.19,1.185,1.18,1.175,1.17,1.165,1.16,1.15,1.144,1.138,1.127,1.1225],"format":".5f","title":null,"grid":false,"domain":false,"ticks":false,"offset":-64,"labelPadding":0,"labelFontSize":11,"labelColor":"#333333","labelFont":"Roboto"}}}},
{"data":{"values":[{"v":25},{"v":75}]},"mark":{"type":"rule","opacity":0},"encoding":{"y":{"field":"v","type":"quantitative","scale":{"domain":[21.2,88.4],"range":[797,708]},"axis":{"orient":"right","zindex":1,"values":[25,75],"format":".2f","title":null,"grid":false,"domain":false,"ticks":false,"offset":-64,"labelPadding":0,"labelFontSize":11,"labelColor":"#333333","labelFont":"Roboto"}}}},
{"data":{"values":[{"v":0},{"v":0.002}]},"mark":{"type":"rule","opacity":0},"encoding":{"y":{"field":"v","type":"quantitative","scale":{"domain":[-0.00301,0.00208],"range":[914,797]},"axis":{"orient":"right","zindex":0,"values":[0,0.002],"format":".5f","title":null,"grid":false,"domain":false,"ticks":false,"offset":-64,"labelPadding":0,"labelFontSize":11,"labelColor":"#333333","labelFont":"Roboto"}}}}
]}
